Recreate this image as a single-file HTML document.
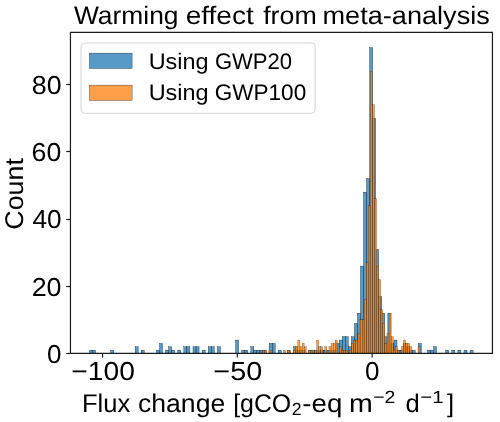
<!DOCTYPE html>
<html><head><meta charset="utf-8"><title>Warming effect from meta-analysis</title>
<style>html,body{margin:0;padding:0;background:#fff;}body{width:500px;height:422px;overflow:hidden;font-family:"Liberation Sans",sans-serif;}svg{display:block;}</style>
</head><body><svg width="500" height="422" viewBox="0 0 500 422"><rect width="500" height="422" fill="#fff"/><g fill="rgba(31,119,180,0.75)" stroke="#000" stroke-width="0.304"><rect x="89.45" y="350.14" width="3.045" height="3.36"/><rect x="92.50" y="350.14" width="3.045" height="3.36"/><rect x="110.77" y="350.14" width="3.045" height="3.36"/><rect x="135.12" y="346.78" width="3.045" height="6.72"/><rect x="141.22" y="350.14" width="3.045" height="3.36"/><rect x="156.44" y="350.14" width="3.045" height="3.36"/><rect x="159.49" y="343.41" width="3.045" height="10.09"/><rect x="165.57" y="350.14" width="3.045" height="3.36"/><rect x="168.62" y="346.78" width="3.045" height="6.72"/><rect x="171.67" y="350.14" width="3.045" height="3.36"/><rect x="177.75" y="350.14" width="3.045" height="3.36"/><rect x="183.84" y="346.78" width="3.045" height="6.72"/><rect x="186.89" y="346.78" width="3.045" height="6.72"/><rect x="192.98" y="346.78" width="3.045" height="6.72"/><rect x="196.03" y="346.78" width="3.045" height="6.72"/><rect x="202.12" y="350.14" width="3.045" height="3.36"/><rect x="208.20" y="346.78" width="3.045" height="6.72"/><rect x="211.25" y="346.78" width="3.045" height="6.72"/><rect x="217.34" y="346.78" width="3.045" height="6.72"/><rect x="235.61" y="340.05" width="3.045" height="13.45"/><rect x="241.70" y="350.14" width="3.045" height="3.36"/><rect x="244.75" y="350.14" width="3.045" height="3.36"/><rect x="250.83" y="346.78" width="3.045" height="6.72"/><rect x="253.88" y="350.14" width="3.045" height="3.36"/><rect x="256.93" y="350.14" width="3.045" height="3.36"/><rect x="259.97" y="350.14" width="3.045" height="3.36"/><rect x="263.01" y="350.14" width="3.045" height="3.36"/><rect x="269.11" y="343.41" width="3.045" height="10.09"/><rect x="272.15" y="343.41" width="3.045" height="10.09"/><rect x="278.24" y="350.14" width="3.045" height="3.36"/><rect x="287.38" y="350.14" width="3.045" height="3.36"/><rect x="293.46" y="346.78" width="3.045" height="6.72"/><rect x="296.51" y="350.14" width="3.045" height="3.36"/><rect x="299.56" y="350.14" width="3.045" height="3.36"/><rect x="302.60" y="350.14" width="3.045" height="3.36"/><rect x="308.69" y="350.14" width="3.045" height="3.36"/><rect x="311.74" y="350.14" width="3.045" height="3.36"/><rect x="314.78" y="350.14" width="3.045" height="3.36"/><rect x="317.82" y="350.14" width="3.045" height="3.36"/><rect x="320.87" y="350.14" width="3.045" height="3.36"/><rect x="323.92" y="350.14" width="3.045" height="3.36"/><rect x="326.96" y="350.14" width="3.045" height="3.36"/><rect x="330.00" y="350.14" width="3.045" height="3.36"/><rect x="333.05" y="350.14" width="3.045" height="3.36"/><rect x="336.09" y="343.41" width="3.045" height="10.09"/><rect x="339.14" y="340.05" width="3.045" height="13.45"/><rect x="342.19" y="336.69" width="3.045" height="16.81"/><rect x="345.23" y="336.69" width="3.045" height="16.81"/><rect x="348.27" y="346.78" width="3.045" height="6.72"/><rect x="351.32" y="336.69" width="3.045" height="16.81"/><rect x="354.37" y="323.24" width="3.045" height="30.26"/><rect x="357.41" y="313.16" width="3.045" height="40.34"/><rect x="360.45" y="266.09" width="3.045" height="87.41"/><rect x="363.50" y="192.12" width="3.045" height="161.38"/><rect x="366.54" y="178.68" width="3.045" height="174.82"/><rect x="369.59" y="47.56" width="3.045" height="305.94"/><rect x="372.63" y="118.16" width="3.045" height="235.34"/><rect x="375.68" y="249.28" width="3.045" height="104.22"/><rect x="378.72" y="296.35" width="3.045" height="57.15"/><rect x="381.77" y="313.16" width="3.045" height="40.34"/><rect x="384.81" y="336.69" width="3.045" height="16.81"/><rect x="387.86" y="313.16" width="3.045" height="40.34"/><rect x="390.90" y="343.41" width="3.045" height="10.09"/><rect x="393.95" y="340.05" width="3.045" height="13.45"/><rect x="397.00" y="350.14" width="3.045" height="3.36"/><rect x="400.04" y="350.14" width="3.045" height="3.36"/><rect x="403.08" y="343.41" width="3.045" height="10.09"/><rect x="406.13" y="346.78" width="3.045" height="6.72"/><rect x="409.17" y="350.14" width="3.045" height="3.36"/><rect x="412.22" y="350.14" width="3.045" height="3.36"/><rect x="418.31" y="343.41" width="3.045" height="10.09"/><rect x="427.44" y="350.14" width="3.045" height="3.36"/><rect x="430.49" y="350.14" width="3.045" height="3.36"/><rect x="433.53" y="346.78" width="3.045" height="6.72"/><rect x="445.71" y="350.14" width="3.045" height="3.36"/><rect x="451.81" y="350.14" width="3.045" height="3.36"/><rect x="457.89" y="350.14" width="3.045" height="3.36"/><rect x="463.98" y="350.14" width="3.045" height="3.36"/><rect x="470.07" y="350.14" width="3.045" height="3.36"/></g><g fill="rgba(255,127,14,0.75)" stroke="#000" stroke-width="0.206"><rect x="262.70" y="350.14" width="2.071" height="3.36"/><rect x="264.77" y="350.14" width="2.071" height="3.36"/><rect x="268.91" y="350.14" width="2.071" height="3.36"/><rect x="283.41" y="350.14" width="2.071" height="3.36"/><rect x="287.55" y="350.14" width="2.071" height="3.36"/><rect x="293.76" y="350.14" width="2.071" height="3.36"/><rect x="295.84" y="346.78" width="2.071" height="6.72"/><rect x="297.91" y="340.05" width="2.071" height="13.45"/><rect x="299.98" y="346.78" width="2.071" height="6.72"/><rect x="302.05" y="343.41" width="2.071" height="10.09"/><rect x="304.12" y="346.78" width="2.071" height="6.72"/><rect x="308.26" y="350.14" width="2.071" height="3.36"/><rect x="310.33" y="350.14" width="2.071" height="3.36"/><rect x="314.48" y="350.14" width="2.071" height="3.36"/><rect x="316.55" y="340.05" width="2.071" height="13.45"/><rect x="318.62" y="346.78" width="2.071" height="6.72"/><rect x="320.69" y="346.78" width="2.071" height="6.72"/><rect x="324.83" y="346.78" width="2.071" height="6.72"/><rect x="328.97" y="346.78" width="2.071" height="6.72"/><rect x="331.04" y="343.41" width="2.071" height="10.09"/><rect x="333.11" y="343.41" width="2.071" height="10.09"/><rect x="335.19" y="340.05" width="2.071" height="13.45"/><rect x="339.33" y="346.78" width="2.071" height="6.72"/><rect x="341.40" y="350.14" width="2.071" height="3.36"/><rect x="343.47" y="350.14" width="2.071" height="3.36"/><rect x="345.54" y="350.14" width="2.071" height="3.36"/><rect x="349.68" y="350.14" width="2.071" height="3.36"/><rect x="351.75" y="343.41" width="2.071" height="10.09"/><rect x="353.82" y="340.05" width="2.071" height="13.45"/><rect x="355.89" y="340.05" width="2.071" height="13.45"/><rect x="357.97" y="333.33" width="2.071" height="20.17"/><rect x="360.04" y="319.88" width="2.071" height="33.62"/><rect x="362.11" y="319.88" width="2.071" height="33.62"/><rect x="364.18" y="299.71" width="2.071" height="53.79"/><rect x="366.25" y="262.73" width="2.071" height="90.77"/><rect x="368.32" y="205.57" width="2.071" height="147.93"/><rect x="370.39" y="71.09" width="2.071" height="282.41"/><rect x="372.46" y="104.71" width="2.071" height="248.79"/><rect x="374.53" y="198.85" width="2.071" height="154.65"/><rect x="376.61" y="266.09" width="2.071" height="87.41"/><rect x="378.68" y="279.54" width="2.071" height="73.96"/><rect x="380.75" y="309.79" width="2.071" height="43.71"/><rect x="382.82" y="323.24" width="2.071" height="30.26"/><rect x="384.89" y="343.41" width="2.071" height="10.09"/><rect x="386.96" y="333.33" width="2.071" height="20.17"/><rect x="389.03" y="313.16" width="2.071" height="40.34"/><rect x="391.10" y="336.69" width="2.071" height="16.81"/><rect x="393.17" y="350.14" width="2.071" height="3.36"/><rect x="395.24" y="346.78" width="2.071" height="6.72"/><rect x="397.31" y="350.14" width="2.071" height="3.36"/><rect x="401.46" y="346.78" width="2.071" height="6.72"/><rect x="403.53" y="340.05" width="2.071" height="13.45"/><rect x="405.60" y="343.41" width="2.071" height="10.09"/><rect x="407.67" y="343.41" width="2.071" height="10.09"/><rect x="409.74" y="346.78" width="2.071" height="6.72"/><rect x="418.02" y="346.78" width="2.071" height="6.72"/></g><path d="M70.45 32.45H492.45V353.35H70.45Z" fill="none" stroke="#1c1c1c" stroke-width="1.2" stroke-linejoin="miter"/><g stroke="#1c1c1c" stroke-width="1.2"><line x1="102.55" y1="353.35" x2="102.55" y2="357.55"/><line x1="237.35" y1="353.35" x2="237.35" y2="357.55"/><line x1="372.15" y1="353.35" x2="372.15" y2="357.55"/><line x1="70.45" y1="353.50" x2="66.25" y2="353.50"/><line x1="70.45" y1="286.50" x2="66.25" y2="286.50"/><line x1="70.45" y1="219.50" x2="66.25" y2="219.50"/><line x1="70.45" y1="151.50" x2="66.25" y2="151.50"/><line x1="70.45" y1="84.50" x2="66.25" y2="84.50"/></g><rect x="81.0" y="43.0" width="234.1" height="70.3" rx="4" ry="4" fill="#fff" fill-opacity="0.8" stroke="#d6d6d6" stroke-width="1.1"/><rect x="89.4" y="53.1" width="42.7" height="15.4" fill="rgba(31,119,180,0.75)" stroke="#000" stroke-width="0.304"/><rect x="89.4" y="85.1" width="42.7" height="15.4" fill="rgba(255,127,14,0.75)" stroke="#000" stroke-width="0.304"/><defs><filter id="gs" x="0" y="0" width="500" height="422" filterUnits="userSpaceOnUse"><feOffset dx="0" dy="0"/></filter></defs><g font-family="Liberation Sans, sans-serif" fill="#000" filter="url(#gs)" text-rendering="geometricPrecision"><text x="73.93" y="24.20" font-size="25.30" textLength="104.59" lengthAdjust="spacingAndGlyphs" text-anchor="start">Warming</text><text x="185.68" y="24.20" font-size="25.30" textLength="68.09" lengthAdjust="spacingAndGlyphs" text-anchor="start">effect</text><text x="263.18" y="24.20" font-size="25.30" textLength="53.59" lengthAdjust="spacingAndGlyphs" text-anchor="start">from</text><text x="322.52" y="24.20" font-size="25.30" textLength="167.27" lengthAdjust="spacingAndGlyphs" text-anchor="start">meta-analysis</text><text x="148.68" y="68.50" font-size="22.50" textLength="59.93" lengthAdjust="spacingAndGlyphs" text-anchor="start">Using</text><text x="214.93" y="68.50" font-size="22.50" textLength="77.18" lengthAdjust="spacingAndGlyphs" text-anchor="start">GWP20</text><text x="148.68" y="100.00" font-size="22.50" textLength="59.93" lengthAdjust="spacingAndGlyphs" text-anchor="start">Using</text><text x="214.81" y="100.00" font-size="22.50" textLength="91.37" lengthAdjust="spacingAndGlyphs" text-anchor="start">GWP100</text><text x="61.52" y="362.90" font-size="26.00" text-anchor="end">0</text><text x="61.58" y="295.66" font-size="26.00" textLength="29.92" lengthAdjust="spacingAndGlyphs" text-anchor="end">20</text><text x="61.57" y="228.42" font-size="26.00" textLength="29.14" lengthAdjust="spacingAndGlyphs" text-anchor="end">40</text><text x="61.25" y="161.18" font-size="26.00" textLength="29.69" lengthAdjust="spacingAndGlyphs" text-anchor="end">60</text><text x="61.52" y="93.94" font-size="26.00" textLength="29.73" lengthAdjust="spacingAndGlyphs" text-anchor="end">80</text><text x="71.27" y="380.20" font-size="26.00" textLength="63.58" lengthAdjust="spacingAndGlyphs" text-anchor="start">−100</text><text x="213.37" y="380.20" font-size="26.00" textLength="48.85" lengthAdjust="spacingAndGlyphs" text-anchor="start">−50</text><text x="365.07" y="380.20" font-size="26.00" text-anchor="start">0</text><text transform="translate(23.30,229.73) rotate(-90)" x="0" y="0" font-size="25.60" textLength="71.62" lengthAdjust="spacingAndGlyphs">Count</text><text x="81.89" y="411.80" font-size="25.60" textLength="48.31" lengthAdjust="spacingAndGlyphs" text-anchor="start">Flux</text><text x="137.95" y="411.80" font-size="25.60" textLength="87.29" lengthAdjust="spacingAndGlyphs" text-anchor="start">change</text><text x="233.13" y="411.80" font-size="25.60" textLength="58.11" lengthAdjust="spacingAndGlyphs" text-anchor="start">[gCO</text><text x="291.85" y="415.40" font-size="17.60" text-anchor="start">2</text><text x="302.26" y="411.80" font-size="25.60" textLength="40.04" lengthAdjust="spacingAndGlyphs" text-anchor="start">-eq</text><text x="348.96" y="411.80" font-size="25.60" textLength="23.80" lengthAdjust="spacingAndGlyphs" text-anchor="start">m</text><text x="373.27" y="403.00" font-size="17.60" textLength="22.18" lengthAdjust="spacingAndGlyphs" text-anchor="start">−2</text><text x="405.49" y="411.80" font-size="25.60" text-anchor="start">d</text><text x="420.17" y="402.60" font-size="17.60" textLength="23.41" lengthAdjust="spacingAndGlyphs" text-anchor="start">−1</text><text x="446.96" y="411.80" font-size="25.60" text-anchor="start">]</text></g></svg></body></html>
